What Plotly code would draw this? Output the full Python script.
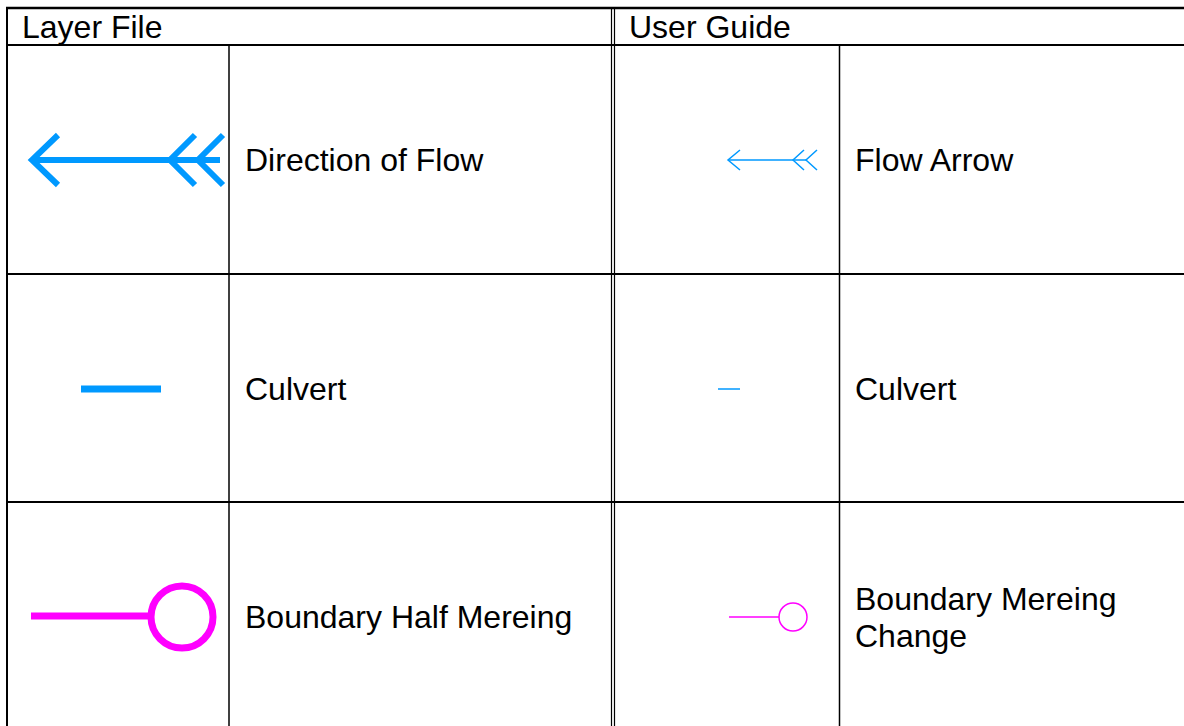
import plotly.graph_objects as go

# ---- data (text content of the table) ----
headers = ["Layer File", "User Guide"]
layer_labels = ["Direction of Flow", "Culvert", "Boundary Half Mereing"]
guide_labels = ["Flow Arrow", "Culvert", "Boundary Mereing<br>Change"]

W, H = 1184, 726
BLUE = "#0099FF"
MAG = "#FF00FF"

fig = go.Figure()

def line(xs, ys, color, width):
    fig.add_trace(go.Scatter(x=xs, y=ys, mode="lines",
                             line=dict(color=color, width=width),
                             hoverinfo="skip", showlegend=False))

# grid lines
grid = []
grid.append(dict(x0=6, x1=W, y0=8, y1=8, w=2.5))
for y in [45, 274, 502]:
    grid.append(dict(x0=6, x1=W, y0=y, y1=y, w=2))
grid.append(dict(x0=7, x1=7, y0=7, y1=H, w=2))
grid.append(dict(x0=229, x1=229, y0=45, y1=H, w=1.5))
grid.append(dict(x0=611.5, x1=611.5, y0=7, y1=H, w=1.2))
grid.append(dict(x0=614.5, x1=614.5, y0=7, y1=H, w=1.2))
grid.append(dict(x0=839.5, x1=839.5, y0=45, y1=H, w=1.5))
for g in grid:
    fig.add_shape(type="line", xref="x", yref="y", x0=g["x0"], x1=g["x1"],
                  y0=g["y0"], y1=g["y1"], line=dict(color="black", width=g["w"]))

# --- Layer File symbols ---
line([220, 32], [160, 160], BLUE, 6)
line([58, 32, 58], [135, 160, 185], BLUE, 6)
line([195, 170, 195], [135, 160, 185], BLUE, 6)
line([223, 198, 223], [135, 160, 185], BLUE, 6)
line([81, 161], [389, 389], BLUE, 7)
line([31, 148], [616, 616], MAG, 7)
fig.add_shape(type="circle", xref="x", yref="y", x0=151, x1=213, y0=586, y1=648,
              line=dict(color=MAG, width=7))

# --- User Guide symbols ---
line([806, 728], [160, 160], BLUE, 1.5)
line([740, 728, 740], [150, 160, 170], BLUE, 1.5)
line([804, 793, 804], [150, 160, 170], BLUE, 1.5)
line([817, 806, 817], [150, 160, 170], BLUE, 1.5)
line([718, 740], [389, 389], BLUE, 1.5)
line([729, 779], [617, 617], MAG, 1.5)
fig.add_shape(type="circle", xref="x", yref="y", x0=779, x1=807, y0=603, y1=631,
              line=dict(color=MAG, width=1.5))

# text
font = dict(family="Liberation Sans, Arial, sans-serif", size=32, color="black")
fig.add_annotation(x=20, y=27, text=headers[0], showarrow=False, xanchor="left",
                   yanchor="middle", font=font)
fig.add_annotation(x=627, y=27, text=headers[1], showarrow=False, xanchor="left",
                   yanchor="middle", font=font)
rows_y = [160, 389, 617]
LINE_GAP = 37
for lab, y in zip(layer_labels, rows_y):
    fig.add_annotation(x=243, y=y, text=lab, showarrow=False, xanchor="left",
                       yanchor="middle", font=font)
for lab, y in zip(guide_labels, rows_y):
    parts = lab.split("<br>")
    n = len(parts)
    for i, p in enumerate(parts):
        yy = y + (i - (n - 1) / 2) * LINE_GAP
        fig.add_annotation(x=853, y=yy, text=p, showarrow=False, xanchor="left",
                           yanchor="middle", align="left", font=font)

fig.update_layout(
    width=W, height=H, autosize=False,
    margin=dict(l=0, r=0, t=0, b=0, pad=0),
    paper_bgcolor="white", plot_bgcolor="white",
    xaxis=dict(range=[0, W], visible=False, fixedrange=True),
    yaxis=dict(range=[H, 0], visible=False, fixedrange=True),
)

fig.write_html("out.html", include_plotlyjs=True,
               config={"displayModeBar": False},
               post_script="document.body.style.margin='0';")
